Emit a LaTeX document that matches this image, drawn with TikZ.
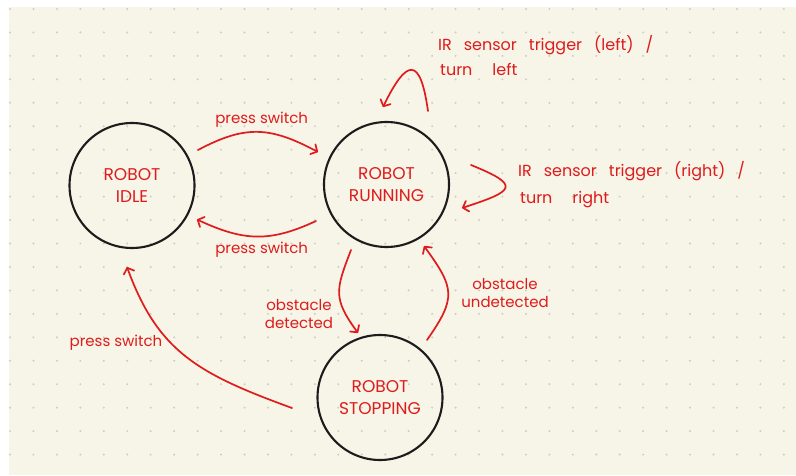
\documentclass[tikz,border=0pt]{standalone}
\usepackage{fontspec}
\setmainfont{Poppins}
\usetikzlibrary{arrows.meta,calc}
\definecolor{cream}{RGB}{247,244,232}
\definecolor{dotc}{RGB}{206,204,196}
\definecolor{ink}{RGB}{222,28,28}
\definecolor{pen}{RGB}{28,28,28}
\newcommand\mywidefont{\fontsize{16}{18}\selectfont\spaceskip=12pt plus 2pt\relax}
\tikzset{
  state/.style={circle,draw=pen,line width=2.1pt,minimum size=125pt,inner sep=0pt,
    text=ink,align=center,font=\fontsize{17}{22}\selectfont},
  arr/.style={draw=ink,line width=1.7pt,line cap=round,
    -{Straight Barb[length=5pt,width=11pt,line cap=round,line join=round]}},
  lbl/.style={text=ink,inner sep=0pt,font=\fontsize{15}{17.5}\selectfont,align=center},
  wide/.style={text=ink,inner sep=0pt,anchor=west}
}
\begin{document}
\begin{tikzpicture}[x=1pt,y=1pt]
\useasboundingbox (0,0) rectangle (796,475);
\fill[white] (0,0) rectangle (796,475);
\fill[cream] (9,0) rectangle (796,467.5);
\foreach \i in {0,...,33}{
  \foreach \j in {0,...,19}{
    \fill[dotc] ({10+23.45*\i},{466-23.45*\j}) circle (1.1pt);
  }
}
% states
\node[state] (idle) at (132,289.5) {ROBOT\\IDLE};
\node[state] (run) at (386.5,290.5) {ROBOT\\RUNNING};
\node[state] (stop) at (380,77.5) {ROBOT\\STOPPING};
% labels
\node[lbl] (l1) at (261.7,355) {press switch};
\node[lbl] (l2) at (261.7,225) {press switch};
\node[lbl] (l3) at (116,132.5) {press switch};
\node[wide] (l4) at (438,430) {\mywidefont IR sensor trigger (left) /};
\node[wide] (l5) at (440,406) {\mywidefont turn\hspace{20pt}left};
\node[wide] (l6) at (518,304) {\mywidefont IR sensor trigger (right) /};
\node[wide] (l7) at (520,275) {\mywidefont turn\hspace{20pt}right};
\node[lbl] (l8) at (299,161) {obstacle\\detected};
\node[lbl] (l9) at (505,182) {obstacle\\undetected};
% connectors
\draw[arr] ($(idle.center)+(66,35.5)$) to[out=28,in=152,looseness=1.15] ($(run.center)+(-68.5,32.5)$);
\draw[arr] ($(run.center)+(-70.5,-36.5)$) to[out=205,in=335,looseness=1.1] ($(idle.center)+(65,-34)$);
\draw[arr] ($(run.center)+(41.5,73.5)$) .. controls +(98:55) and +(64:55) .. ($(run.center)+(-3.5,77.5)$);
\draw[arr] ($(run.center)+(84.5,19.5)$) .. controls +(-22:55) and +(18:55) .. ($(run.center)+(75.5,-23.5)$);
\draw[arr] ($(run.center)+(-35.5,-65.5)$) .. controls +(249:43) and +(126:43) .. ($(stop.center)+(-22,64.5)$);
\draw[arr] ($(stop.center)+(47,57.5)$) .. controls +(55:52) and +(-54:52) .. ($(run.center)+(37.5,-61.5)$);
\draw[arr] ($(stop.center)+(-88,-10.5)$) .. controls +(160:100) and +(290:90) .. ($(idle.center)+(-5,-81.5)$);
\end{tikzpicture}
\end{document}
